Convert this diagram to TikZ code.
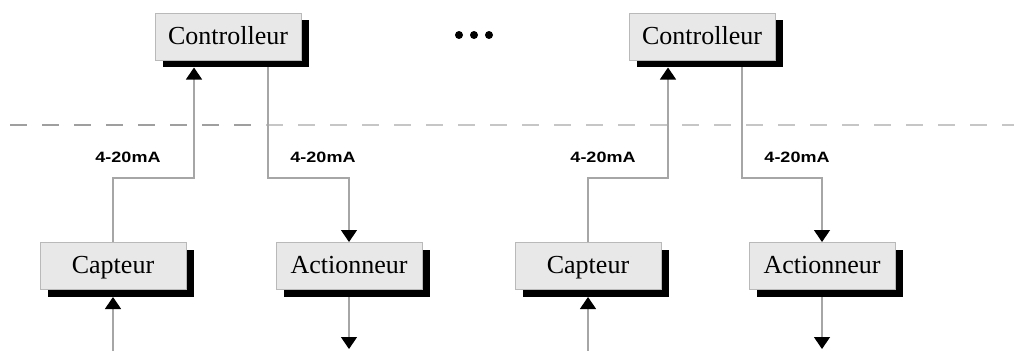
\documentclass[tikz,border=0pt]{standalone}
\usepackage{fontspec}
\setmainfont{Liberation Serif}
\newfontfamily\etiqfont{Liberation Sans}
\usetikzlibrary{arrows.meta,shadows,backgrounds}
\tikzset{
  bloc/.style={draw=gray!55, fill=gray!18, line width=1pt, minimum width=146pt, minimum height=47pt, inner sep=0pt,
    text height=20pt, text depth=5pt,
    font=\fontsize{26}{30}\selectfont,
    drop shadow={shadow xshift=8pt, shadow yshift=-7pt, fill=black, opacity=1}},
  fil/.style={draw=gray!70, line width=1.3pt},
  fleche/.style={fil, -{Triangle[width=16pt,length=12pt,color=black]}},
  courant/.style={font=\etiqfont\bfseries\fontsize{15}{18}\selectfont, xscale=1.2, inner sep=0pt},
  point/.style={circle, fill, inner sep=0pt, minimum size=8pt},
}
\begin{document}
\begin{tikzpicture}[x=1pt,y=-1pt]
  \useasboundingbox (0,0) rectangle (1014,351);

  % boucle de gauche
  \node[bloc] (ctrl1) at (228,36.5) {Controlleur};
  \node[bloc] (cap1) at (113,266) {Capteur};
  \node[bloc] (act1) at (349,266) {Actionneur};
  \node[courant] (lab1) at (128,157) {4-20mA};
  \node[courant] (lab2) at (323,157) {4-20mA};

  % boucle de droite
  \node[bloc] (ctrl2) at (702,36.5) {Controlleur};
  \node[bloc] (cap2) at (588,266) {Capteur};
  \node[bloc] (act2) at (822,266) {Actionneur};
  \node[courant] (lab3) at (603,157) {4-20mA};
  \node[courant] (lab4) at (797,157) {4-20mA};

  % points de suspension
  \foreach \x [count=\i] in {459,474,489}
    \node[point] (dot\i) at (\x,35) {};

  \coordinate (m1) at (194,178);
  \coordinate (n1) at (268,178);
  \coordinate (m2) at (668,178);
  \coordinate (n2) at (742,178);
  \coordinate (e1) at (113,351);
  \coordinate (s1) at (349,349);
  \coordinate (e2) at (588,351);
  \coordinate (s2) at (822,349);
  \coordinate (g) at (10,125);
  \coordinate (x) at (266,125);
  \coordinate (d) at (1014,125);

  \begin{scope}[on background layer]
    \draw[gray!75, line width=1.5pt, dash pattern=on 17pt off 15pt] (g) -- (x);
    \draw[gray!45, line width=1.7pt, dash pattern=on 17pt off 15pt] (x) -- (d);

    \draw[fleche, shorten >=7pt] (cap1.north) |- (m1) -- (m1 |- ctrl1.south);
    \draw[fleche] (n1 |- ctrl1.south) -- (n1) -| (act1.north);
    \draw[fleche, shorten >=7pt] (e1) -- (cap1.south);
    \draw[fleche] (act1.south) -- (s1);

    \draw[fleche, shorten >=7pt] (cap2.north) |- (m2) -- (m2 |- ctrl2.south);
    \draw[fleche] (n2 |- ctrl2.south) -- (n2) -| (act2.north);
    \draw[fleche, shorten >=7pt] (e2) -- (cap2.south);
    \draw[fleche] (act2.south) -- (s2);
  \end{scope}
\end{tikzpicture}
\end{document}
